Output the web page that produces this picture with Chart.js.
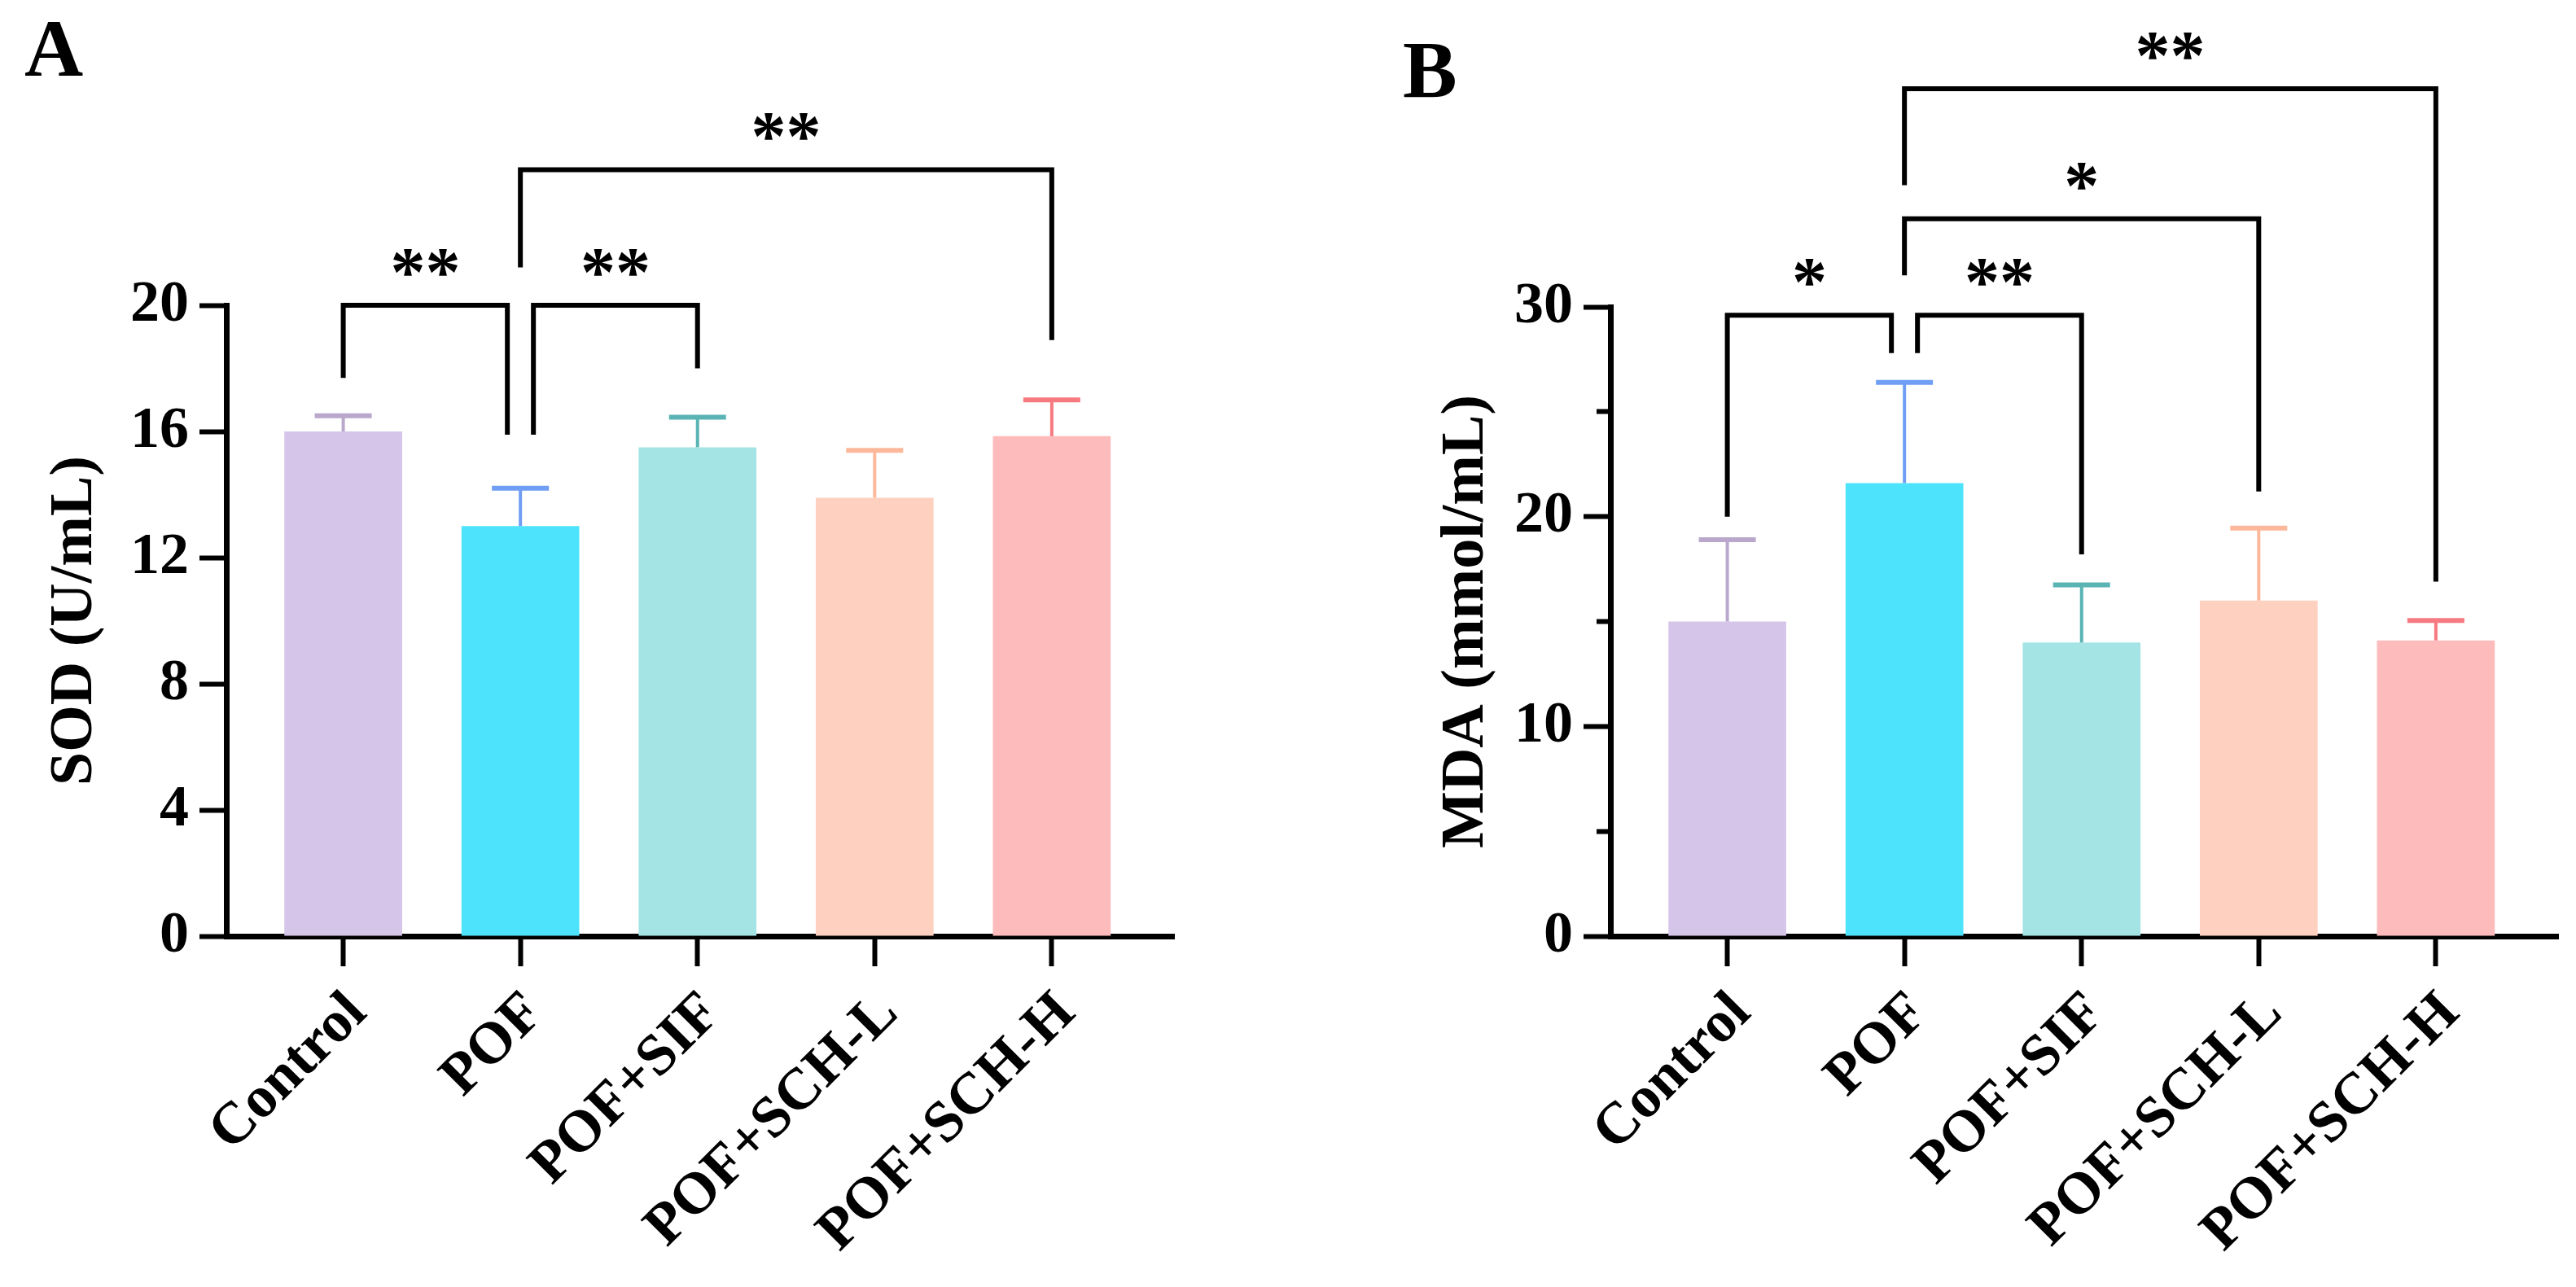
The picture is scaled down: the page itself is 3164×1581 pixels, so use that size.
<!DOCTYPE html>
<html><head><meta charset="utf-8">
<script src="https://cdn.jsdelivr.net/npm/chart.js@4/dist/chart.umd.min.js"></script>
<style>
html,body{margin:0;padding:0;background:#fff;}
#wrap{position:relative;width:3164px;height:1581px;background:#fff;}
.panel{position:absolute;top:0;width:1582px;height:1581px;}
</style></head><body>
<div id="wrap">
<div class="panel" style="left:0"><canvas id="cA"></canvas></div>
<div class="panel" style="left:1582px"><canvas id="cB"></canvas></div>
</div>
<script>
// ---- data ----
const categories = ['Control', 'POF', 'POF+SIF', 'POF+SCH-L', 'POF+SCH-H'];
const sodMean = [16.0, 13.0, 15.5, 13.9, 15.85];
const sodErr  = [0.5, 1.2, 0.95, 1.5, 1.15];
const mdaMean = [15.0, 21.6, 14.0, 16.0, 14.1];
const mdaErr  = [3.9, 4.8, 2.75, 3.45, 0.95];
const sodTickValues = [0, 4, 8, 12, 16, 20];
const mdaTickValues = [0, 10, 20, 30];
const mdaMinorTickValues = [0, 5, 10, 15, 20, 25, 30];
// significance brackets (group indices, y levels in data units)
const sigA_from = [0, 1, 1];
const sigA_to = [1, 2, 4];
const sigA_level = [20.0, 20.0, 24.3];
const sigA_leftEnd = [17.7, 15.9, 21.2];
const sigA_rightEnd = [15.9, 18.0, 18.9];
const sigA_text = ['**', '**', '**'];
const sigB_from = [0, 1, 1, 1];
const sigB_to = [1, 2, 3, 4];
const sigB_level = [29.6, 29.6, 34.2, 40.4];
const sigB_leftEnd = [20.0, 27.8, 31.5, 35.8];
const sigB_rightEnd = [27.8, 18.2, 21.2, 16.9];
const sigB_text = ['*', '**', '*', '**'];

const barColors = ['#D4C5E9', '#4EE3FC', '#A5E4E4', '#FDD0BF', '#FDBBBC'];
const errColors = ['#B9A8CB', '#6F9EF4', '#5BB4B4', '#FDB89C', '#F77A81'];
const FONT = "'Liberation Serif', 'Times New Roman', serif";

function makeAnnot(err, sig) {
  return {
    id: 'annot',
    afterDatasetsDraw(chart) {
      const ctx = chart.ctx, xs = chart.scales.x, ys = chart.scales.y;
      const ds = chart.data.datasets[0];
      ctx.save();
      ctx.lineCap = 'butt';
      ds.data.forEach((p, i) => {
        const px = xs.getPixelForValue(p.x);
        const y0 = ys.getPixelForValue(p.y);
        const y1 = ys.getPixelForValue(p.y + err[i]);
        ctx.strokeStyle = errColors[i];
        ctx.lineWidth = 4;
        ctx.beginPath(); ctx.moveTo(px, y0); ctx.lineTo(px, y1); ctx.stroke();
        ctx.lineWidth = 6;
        ctx.beginPath(); ctx.moveTo(px - 35, y1); ctx.lineTo(px + 35, y1); ctx.stroke();
      });
      ctx.restore();
    },
    afterDraw(chart) {
      const ctx = chart.ctx, xs = chart.scales.x, ys = chart.scales.y;
      const n = sig.from.length;
      ctx.save();
      ctx.strokeStyle = '#000';
      ctx.fillStyle = '#000';
      ctx.lineWidth = 6;
      ctx.lineJoin = 'miter';
      ctx.lineCap = 'butt';
      ctx.font = 'bold 86px ' + FONT;
      ctx.textAlign = 'center';
      ctx.textBaseline = 'alphabetic';
      for (let k = 0; k < n; k++) {
        let lx = xs.getPixelForValue(sig.from[k]);
        let rx = xs.getPixelForValue(sig.to[k]);
        for (let j = 0; j < n; j++) {
          if (j === k || sig.level[j] !== sig.level[k]) continue;
          if (sig.to[j] === sig.from[k]) lx += 16;
          if (sig.from[j] === sig.to[k]) rx -= 16;
        }
        const ly = ys.getPixelForValue(sig.level[k]);
        ctx.beginPath();
        ctx.moveTo(lx, ys.getPixelForValue(sig.leftEnd[k]));
        ctx.lineTo(lx, ly);
        ctx.lineTo(rx, ly);
        ctx.lineTo(rx, ys.getPixelForValue(sig.rightEnd[k]));
        ctx.stroke();
        ctx.fillText(sig.text[k], (lx + rx) / 2, ly - 12);
      }
      ctx.restore();
    }
  };
}

function makeChart(id, c) {
  return new Chart(document.getElementById(id), {
    type: 'bar',
    data: {
      datasets: [{
        data: c.means.map((v, i) => ({ x: i, y: v })),
        backgroundColor: barColors,
        borderWidth: 0,
        categoryPercentage: 1,
        barPercentage: 0.665
      }]
    },
    options: {
      responsive: true,
      maintainAspectRatio: false,
      animation: false,
      devicePixelRatio: 1,
      events: [],
      layout: { padding: { left: c.padL, right: c.padR, top: 0, bottom: 0 } },
      plugins: {
        legend: { display: false },
        tooltip: { enabled: false },
        title: {
          display: true, text: c.letter, align: 'start', color: '#000',
          font: { family: FONT, size: 100, weight: 'bold', lineHeight: 1.2 },
          padding: { top: c.tTop, bottom: c.tBot }
        }
      },
      scales: {
        x: {
          type: 'linear', min: -0.66, max: 4.69, offset: false,
          afterBuildTicks: s => { s.ticks = categories.map((_, i) => ({ value: i })); },
          afterFit: s => { s.height = 431; },
          grid: { display: true, offset: false, drawOnChartArea: false, drawTicks: true, tickLength: 37, tickWidth: 6, tickColor: '#000' },
          border: { display: true, color: '#000', width: 7 },
          ticks: {
            autoSkip: false, minRotation: 45, maxRotation: 45, padding: 16, labelOffset: 18,
            color: '#000', font: { family: FONT, size: 72, weight: 'bold' },
            callback: v => categories[v]
          }
        },
        y: {
          min: 0, max: c.max,
          afterFit: s => { s.width = c.yW; },
          afterBuildTicks: s => { s.ticks = c.allTicks.map(v => ({ value: v })); },
          ticks: {
            padding: 13, color: '#000', font: { family: FONT, size: 72, weight: 'bold' },
            callback: v => (c.labels.includes(v) ? String(v) : '')
          },
          grid: {
            display: true, drawOnChartArea: false, tickLength: 33, tickWidth: 6, tickColor: '#000',
            tickBorderDash: ctx => (ctx.tick && !c.labels.includes(ctx.tick.value)) ? [0, 16, 100] : []
          },
          border: { display: true, color: '#000', width: 7 },
          title: {
            display: true, text: c.yTitle, color: '#000',
            font: { family: FONT, size: 74, weight: 'bold', lineHeight: 1.2 },
            padding: { top: c.ytPad, bottom: 0 }
          }
        }
      }
    },
    plugins: [makeAnnot(c.err, c.sig)]
  });
}

makeChart('cA', {
  means: sodMean, err: sodErr, max: 20,
  allTicks: sodTickValues, labels: sodTickValues,
  yTitle: 'SOD (U/mL)', letter: 'A',
  padL: 30, padR: 140, yW: 248, ytPad: 18, tTop: 7, tBot: 248,
  sig: { from: sigA_from, to: sigA_to, level: sigA_level, leftEnd: sigA_leftEnd, rightEnd: sigA_rightEnd, text: sigA_text }
});
makeChart('cB', {
  means: mdaMean, err: mdaErr, max: 30,
  allTicks: mdaMinorTickValues, labels: mdaTickValues,
  yTitle: 'MDA (mmol/mL)', letter: 'B',
  padL: 141, padR: 22, yW: 255, ytPad: 34, tTop: 33, tBot: 224,
  sig: { from: sigB_from, to: sigB_to, level: sigB_level, leftEnd: sigB_leftEnd, rightEnd: sigB_rightEnd, text: sigB_text }
});
</script>
</body></html>
